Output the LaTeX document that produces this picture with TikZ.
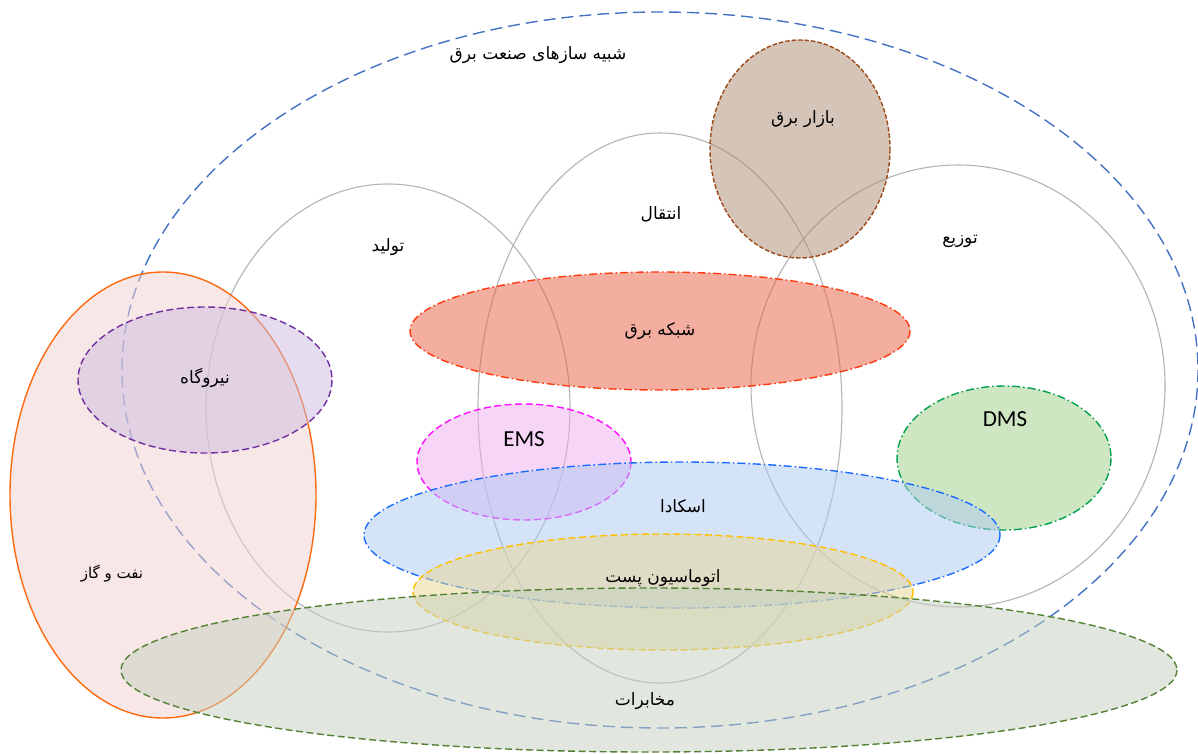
\documentclass[tikz,border=0pt]{standalone}
\usepackage{fontspec}
\newfontfamily\arabicfont[Script=Arabic]{DejaVu Sans}
\newfontfamily\latinsans{Carlito}
\TeXXeTstate=1
\definecolor{simblue}{HTML}{4472C4}
\definecolor{ringgray}{HTML}{B4B4B4}
\definecolor{mktline}{HTML}{9C4A1A}
\definecolor{mktfill}{HTML}{AD8D75}
\definecolor{netline}{HTML}{FF3A10}
\definecolor{netfill}{HTML}{E95F41}
\definecolor{oilline}{HTML}{FF6A10}
\definecolor{oilfill}{HTML}{F3D1D1}
\definecolor{plantline}{HTML}{7030A0}
\definecolor{plantfill}{HTML}{CDBDE1}
\definecolor{emsline}{HTML}{FF10FF}
\definecolor{emsfill}{HTML}{F1ADF1}
\definecolor{dmsline}{HTML}{00A050}
\definecolor{dmsfill}{HTML}{9FD187}
\definecolor{scadaline}{HTML}{1A6BFF}
\definecolor{scadafill}{HTML}{ADC9F5}
\definecolor{subline}{HTML}{FFC000}
\definecolor{subfill}{HTML}{E7D791}
\definecolor{telline}{HTML}{548235}
\definecolor{telfill}{HTML}{C5D1C1}
\tikzset{
  x=1pt, y=-1pt,
  ring/.style={draw=ringgray, line width=1.1pt},
  blob/.style={line width=1.4pt, fill opacity=0.5},
  dashline/.style={dash pattern=on 7pt off 3.5pt},
  dashdotline/.style={dash pattern=on 8pt off 3pt on 1.5pt off 3pt},
  label/.style={font=\arabicfont\fontsize{17}{20}\selectfont, text=black, inner sep=1pt},
  latinlabel/.style={font=\latinsans\fontsize{23}{26}\selectfont, text=black, inner sep=1pt},
}
\begin{document}
\begin{tikzpicture}
\useasboundingbox (0,0) rectangle (1198,754);
\fill[white] (0,0) rectangle (1198,754);

% whole industry frame
\draw[simblue, line width=1.4pt, dash pattern=on 12pt off 6pt]
  (660,370) ellipse [x radius=538, y radius=358];

% generation, transmission, distribution rings
\draw[ring] (388,408) ellipse [x radius=182, y radius=224];
\draw[ring] (660,408) ellipse [x radius=182, y radius=275];
\draw[ring] (958,386) ellipse [x radius=207, y radius=221];

% electricity market
\draw[blob, draw=mktline, fill=mktfill, dash pattern=on 4.5pt off 2pt]
  (800,149) ellipse [x radius=90, y radius=109];
% power network
\draw[blob, draw=netline, fill=netfill, dashdotline]
  (660,331) ellipse [x radius=250, y radius=59];
% oil and gas
\draw[blob, draw=oilline, fill=oilfill]
  (163,495) ellipse [x radius=153, y radius=223];
% power plant
\draw[blob, draw=plantline, fill=plantfill, dashline]
  (205,380) ellipse [x radius=127, y radius=73];
% EMS
\draw[blob, draw=emsline, fill=emsfill, dashline]
  (524,462) ellipse [x radius=107, y radius=58];
% DMS
\draw[blob, draw=dmsline, fill=dmsfill, dashdotline]
  (1004,458) ellipse [x radius=107, y radius=72];
% SCADA
\draw[blob, draw=scadaline, fill=scadafill, dashdotline]
  (682,535) ellipse [x radius=318, y radius=73];
% substation automation
\draw[blob, draw=subline, fill=subfill, dashline]
  (663,592) ellipse [x radius=250, y radius=58];
% telecommunications
\draw[blob, draw=telline, fill=telfill, dashline]
  (649,670) ellipse [x radius=528, y radius=82];

% labels
\node[label] (sim)   at (538,55)  {\beginR شبیه سازهای صنعت برق\endR};
\node[label] (mkt)   at (803,119) {\beginR بازار برق\endR};
\node[label] (trans) at (661,214) {\beginR انتقال\endR};
\node[label] (gen)   at (388,247) {\beginR تولید\endR};
\node[label] (dist)  at (960,241) {\beginR توزیع\endR};
\node[label] (net)   at (660,331) {\beginR شبکه برق\endR};
\node[label] (plant) at (205,378) {\beginR نیروگاه\endR};
\node[latinlabel] (ems) at (524,439) {EMS};
\node[latinlabel] (dms) at (1005,419) {DMS};
\node[label] (scada) at (683,506) {\beginR اسکادا\endR};
\node[label] (sub)   at (663,578) {\beginR اتوماسیون پست\endR};
\node[label, font=\arabicfont\fontsize{15}{18}\selectfont] (oil) at (112,574) {\beginR نفت و گاز\endR};
\node[label] (tel)   at (645,701) {\beginR مخابرات\endR};
\end{tikzpicture}
\end{document}
